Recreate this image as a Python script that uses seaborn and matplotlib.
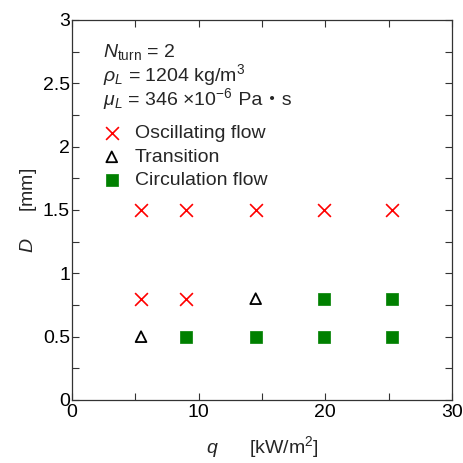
import matplotlib
matplotlib.use("Agg")
import matplotlib.pyplot as plt
import seaborn as sns
from matplotlib.ticker import MultipleLocator

sns.set_theme(style="ticks")
plt.rcParams['font.family'] = ['Liberation Sans', 'Noto Sans CJK JP', 'DejaVu Sans']
plt.rcParams['mathtext.fontset'] = 'custom'
plt.rcParams['mathtext.rm'] = 'Liberation Sans'
plt.rcParams['mathtext.it'] = 'Liberation Sans:italic'
plt.rcParams['mathtext.bf'] = 'Liberation Sans:bold'

# Data
osc_q = [5.45, 9.0, 14.5, 19.9, 25.3, 5.45, 9.0]
osc_D = [1.5, 1.5, 1.5, 1.5, 1.5, 0.8, 0.8]
tra_q = [5.45, 14.5]
tra_D = [0.5, 0.8]
cir_q = [9.0, 14.5, 19.9, 25.3, 19.9, 25.3]
cir_D = [0.5, 0.5, 0.5, 0.5, 0.8, 0.8]
labels = ["Oscillating flow", "Transition", "Circulation flow"]
xticks = [0, 10, 20, 30]
xtick_labels = ['0', '10', '20', '30']
yticks = [0, 0.5, 1, 1.5, 2, 2.5, 3]
ytick_labels = ['0', '0.5', '1', '1.5', '2', '2.5', '3']

fig = plt.figure(figsize=(4.64, 4.63), dpi=100)
ax = fig.add_axes([72/464, 1-400/463, 380/464, 380/463])

sns.scatterplot(x=osc_q, y=osc_D, ax=ax, marker='x', color='red', s=85,
                linewidth=1.2, label=labels[0])
sns.scatterplot(x=tra_q, y=tra_D, ax=ax, marker='^', facecolor='none',
                edgecolor='black', s=60, linewidth=1.3, label=labels[1])
sns.scatterplot(x=cir_q, y=cir_D, ax=ax, marker='s', color='green',
                edgecolor='green', s=72, linewidth=0.5, label=labels[2])

ax.set_xlim(0, 30)
ax.set_ylim(0, 3)
ax.set_xticks(xticks, xtick_labels)
ax.set_yticks(yticks, ytick_labels)
ax.xaxis.set_minor_locator(MultipleLocator(5))
ax.yaxis.set_minor_locator(MultipleLocator(0.25))
fs = 14
ax.tick_params(which='both', direction='in', top=True, right=True,
               labelsize=fs, colors='#333333', labelcolor='black')
ax.tick_params(axis='x', which='both', pad=3)
ax.tick_params(axis='y', which='both', pad=1.5)
ax.tick_params(which='major', length=5, width=0.8)
ax.tick_params(which='minor', length=5, width=0.8)
for sp in ax.spines.values():
    sp.set_linewidth(0.9)
    sp.set_color('#333333')

ax.set_xlabel(r"$q$      [kW/m$^2$]", fontsize=fs, labelpad=9)
ax.set_ylabel(r"$D$     [mm]", fontsize=fs, labelpad=3)

x0 = 0.082
ax.text(x0, 0.903, r"$N_\mathrm{turn}$ = 2", transform=ax.transAxes, fontsize=fs, va='baseline')
ax.text(x0, 0.839, r"$\rho_L$ = 1204 kg/m$^3$", transform=ax.transAxes, fontsize=fs, va='baseline')
t3 = ax.text(x0, 0.776, r"$\mu_L$ = 346 $\times$10$^{-6}$", transform=ax.transAxes,
             fontsize=fs, va='baseline')
fig.canvas.draw()
bb = t3.get_window_extent()
xr = ax.transAxes.inverted().transform((bb.x1, 0))[0]
ax.text(xr, 0.776, " Pa・s", transform=ax.transAxes, fontsize=fs, va='baseline')

ax.legend(loc='upper left', bbox_to_anchor=(0.079, 0.724), frameon=False,
          fontsize=fs, handletextpad=0.7, labelspacing=0.3, borderaxespad=0,
          borderpad=0, handlelength=1.0)

fig.savefig("out.png", dpi=100)
